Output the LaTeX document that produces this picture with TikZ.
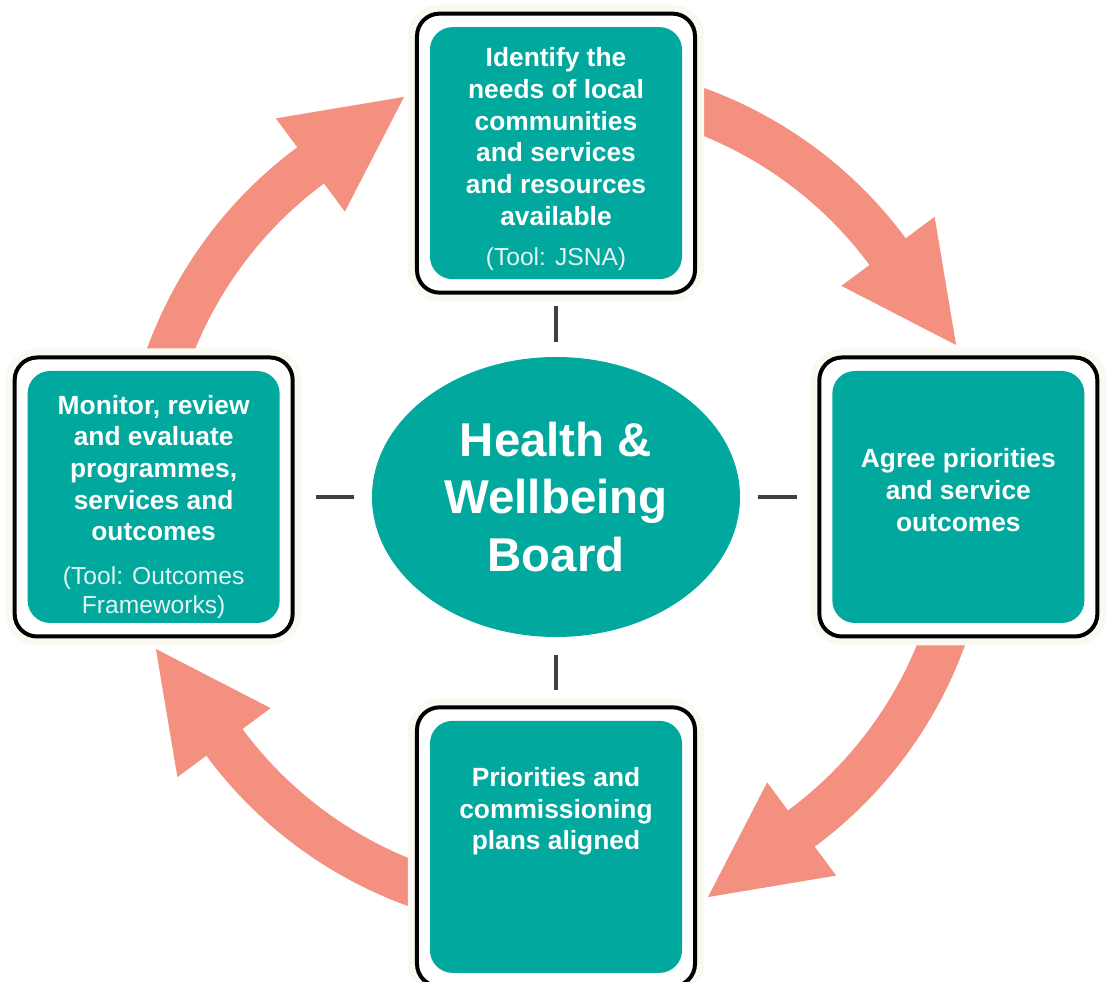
\documentclass[tikz,border=0pt]{standalone}
\usepackage{fontspec}
\setmainfont{Liberation Sans}
\usepackage{xcolor}
\usepackage{tikz}
\usetikzlibrary{shapes.geometric, positioning}

\definecolor{hwbteal}{RGB}{0,168,157}
\definecolor{arrowpink}{RGB}{244,144,128}
\definecolor{glow}{RGB}{251,248,241}
\definecolor{dashgrey}{RGB}{64,64,64}
\definecolor{toolwhite}{RGB}{228,244,241}

\tikzstyle{hub} = [ellipse, fill=hwbteal, text=white, minimum width=7.36cm, minimum height=5.6cm, inner sep=0pt, align=center, font=\bfseries\fontsize{27}{32.6}\selectfont]
\tikzstyle{outerbox} = [rectangle, draw=black, line width=0.08cm, fill=white, rounded corners=0.45cm, minimum width=5.56cm, minimum height=5.58cm, preaction={draw=glow, line width=0.36cm}]
\tikzstyle{panel} = [rectangle, fill=hwbteal, rounded corners=0.45cm, minimum width=5.04cm, minimum height=5.04cm, inner sep=0pt]
\tikzstyle{boxtext} = [text=white, align=center, inner sep=0pt, font=\bfseries\fontsize{15}{18}\selectfont]
\tikzstyle{tooltext} = [text=toolwhite, align=center, inner sep=0pt, font=\fontsize{14}{16.5}\selectfont]
\tikzstyle{sweep} = [fill=arrowpink]
\tikzstyle{link} = [draw=dashgrey, line width=0.09cm]

\begin{document}
\begin{tikzpicture}
\useasboundingbox (-11.12,-9.70) rectangle (11.0,9.94);

% centre of the cycle
\node[hub] (hwb) at (0,0) {Health \&\\Wellbeing\\Board};

% big curved arrows, drawn before the boxes so the tails sit underneath
\foreach \i in {0,1,2,3}
  \fill[sweep, rotate=-90*\i] (75:8.7) arc[start angle=75, end angle=36.5, radius=8.7]
    -- (36.5:9.42) -- (20.8:8.56) -- (36.5:7.1) -- (36.5:7.8)
    arc[start angle=36.5, end angle=75, radius=7.8] -- cycle;

% the four stages around the board
\node[outerbox, above=1.24cm of hwb] (needs) {};
\node[outerbox, right=1.54cm of hwb] (agree) {};
\node[outerbox, below=1.36cm of hwb] (align) {};
\node[outerbox, left=1.54cm of hwb] (monitor) {};

\node[panel] (needs-p) at (needs) {};
\node[panel] (agree-p) at (agree) {};
\node[panel] (align-p) at (align) {};
\node[panel] (monitor-p) at (monitor) {};

% texts
\node[boxtext] (needs-txt) at ([yshift=0.33cm]needs-p.center) {Identify the\\needs of local\\communities\\and services\\and resources\\available};
\node[tooltext] (needs-tool) at ([yshift=-2.12cm]needs-p.center) {(Tool: JSNA)};
\node[boxtext] (agree-txt) at ([yshift=0.14cm]agree-p.center) {Agree priorities\\and service\\outcomes};
\node[boxtext] (align-txt) at ([yshift=0.71cm]align-p.center) {Priorities and\\commissioning\\plans aligned};
\node[boxtext] (monitor-txt) at ([yshift=0.58cm]monitor-p.center) {Monitor, review\\and evaluate\\programmes,\\services and\\outcomes};
\node[tooltext] (monitor-tool) at ([yshift=-1.92cm]monitor-p.center) {(Tool: Outcomes\\Frameworks)};

% short dashes between board and boxes
\draw[link, shorten <=0.3cm, shorten >=0.22cm] (hwb) -- (needs);
\draw[link, shorten <=0.36cm, shorten >=0.4cm] (hwb) -- (agree);
\draw[link, shorten <=0.36cm, shorten >=0.3cm] (hwb) -- (align);
\draw[link, shorten <=0.36cm, shorten >=0.42cm] (hwb) -- (monitor);

\end{tikzpicture}
\end{document}
